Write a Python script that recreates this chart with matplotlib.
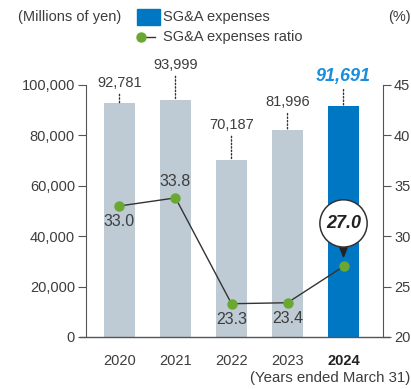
import matplotlib.pyplot as plt
from matplotlib.patches import Rectangle
from matplotlib.lines import Line2D

plt.rcParams['font.family'] = ['Liberation Sans', 'DejaVu Sans']

# ------------------------------------------------------------
# data
# ------------------------------------------------------------
years = ['2020', '2021', '2022', '2023', '2024']
sga_expenses = [92781, 93999, 70187, 81996, 91691]     # millions of yen
sga_ratio = [33.0, 33.8, 23.3, 23.4, 27.0]            # %
left_ticks = [0, 20000, 40000, 60000, 80000, 100000]
right_ticks = [20, 25, 30, 35, 40, 45]

# label offsets (pixels above bar top / relative to ratio point)
bar_label_dy = [20, 35, 35, 28, 29]
ratio_label_dy = [-16, 16, -16, -16, 43]

GRAY_BAR = '#bfcbd4'
BLUE_BAR = '#0077c2'
BLUE_TXT = '#1a8ddb'
GREEN = '#6aa832'
TXT = '#3d3d3d'
AXIS = '#555555'

W, H = 411, 389
fig = plt.figure(figsize=(W / 100, H / 100), dpi=100)


def fx(x):
    return x / W


def fy(y):
    return 1 - y / H


ax = fig.add_axes([fx(86), fy(337), (383 - 86) / W, (337 - 85) / H])
ax2 = ax.twinx()
ax.set_zorder(ax2.get_zorder() - 1)
ax2.patch.set_visible(False)

x = list(range(len(years)))
colors = [GRAY_BAR] * 4 + [BLUE_BAR]
ax.bar(x, sga_expenses, width=0.555, color=colors, zorder=2)
ax.set_xlim(-0.598, 4.705)
ax.set_ylim(0, 100000)
ax2.set_ylim(20, 45)

# bar value labels with dotted leaders
for i, v in enumerate(sga_expenses):
    last = i == len(sga_expenses) - 1
    ax.annotate(f'{v:,}', xy=(i, v), xytext=(0, bar_label_dy[i]),
                textcoords='offset pixels', ha='center', va='center',
                fontsize=13 if last else 10.5,
                color=BLUE_TXT if last else TXT,
                fontweight='bold' if last else 'normal',
                fontstyle='italic' if last else 'normal',
                arrowprops=dict(arrowstyle='-', color='#333333', lw=1,
                                linestyle=(0, (1, 1.5)), relpos=(0.5, 0),
                                shrinkA=1, shrinkB=0))

# ratio line
ax2.plot(x, sga_ratio, color='#333333', lw=1, marker='o', ms=6.5,
         mfc=GREEN, mec=GREEN, zorder=3)
for i, v in enumerate(sga_ratio[:-1]):
    ax2.annotate(f'{v:.1f}', xy=(i, v), xytext=(0, ratio_label_dy[i]),
                 textcoords='offset pixels', ha='center', va='center',
                 fontsize=11.5, color=TXT)

# highlighted latest ratio in a callout bubble
ax2.annotate(f'{sga_ratio[-1]:.1f}', xy=(4, sga_ratio[-1]),
             xytext=(0, ratio_label_dy[-1]), textcoords='offset pixels',
             ha='center', va='center', fontsize=13, fontweight='bold',
             fontstyle='italic', color='#222222', zorder=5,
             bbox=dict(boxstyle='circle,pad=0.34', fc='white', ec='#333333', lw=1.1),
             arrowprops=dict(arrowstyle='wedge,tail_width=0.4', fc='#222222',
                             ec='#222222', shrinkA=0, shrinkB=7))

# axes styling
for a in (ax, ax2):
    for s in ('top', 'bottom'):
        a.spines[s].set_visible(False)
ax.spines['right'].set_visible(False)
ax2.spines['left'].set_visible(False)
ax.spines['left'].set_color(AXIS)
ax2.spines['right'].set_color(AXIS)

ax.set_yticks(left_ticks)
ax.set_yticklabels([f'{t:,}' for t in left_ticks])
ax2.set_yticks(right_ticks)
ax.tick_params(axis='y', direction='out', length=6, color=AXIS, labelsize=10.5,
               labelcolor=TXT, pad=2)
ax2.tick_params(axis='y', direction='out', length=6, color=AXIS, labelsize=10.5,
                labelcolor=TXT, pad=2)

ax.set_xticks(x)
ax.set_xticklabels(years, fontsize=10.5, color=TXT)
ax.tick_params(axis='x', length=0, pad=12)
ax.get_xticklabels()[-1].set_fontweight('bold')
ax.get_xticklabels()[-1].set_color('#222222')

# baseline running under both y axes
ax.axhline(0, xmin=-0.02, xmax=1.02, color=AXIS, lw=1, clip_on=False, zorder=4)

# header texts and legend
fig.text(fx(18), fy(17), '(Millions of yen)', fontsize=10.5, color=TXT, va='center')
fig.text(fx(388), fy(17), '(%)', fontsize=10.5, color=TXT, va='center')
fig.add_artist(Rectangle((fx(137), fy(25)), 23 / W, 16 / H,
                         transform=fig.transFigure, color=BLUE_BAR))
fig.text(fx(163), fy(17), 'SG&A expenses', fontsize=10.5, color=TXT, va='center')
fig.add_artist(Line2D([fx(141), fx(155)], [fy(37), fy(37)], color='#333333', lw=1,
                      transform=fig.transFigure))
fig.add_artist(Line2D([fx(141)], [fy(37)], marker='o', ms=6.5, color=GREEN,
                      transform=fig.transFigure))
fig.text(fx(163), fy(37), 'SG&A expenses ratio', fontsize=10.5, color=TXT, va='center')

fig.text(fx(410), fy(378), '(Years ended March 31)', fontsize=10.8, color=TXT,
         ha='right', va='center')

fig.savefig('out.png', dpi=100)
